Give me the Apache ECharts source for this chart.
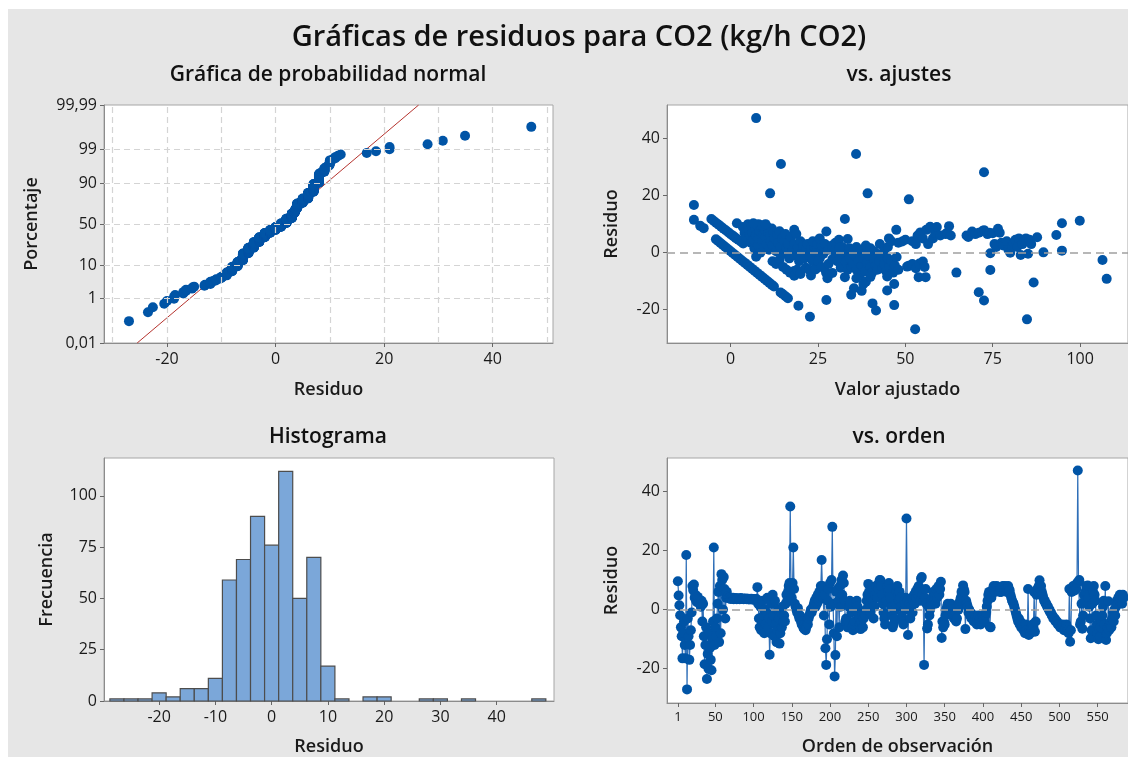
<!DOCTYPE html>
<html><head><meta charset="utf-8">
<script src="https://cdn.jsdelivr.net/npm/echarts@6/dist/echarts.min.js"></script>
<style>
html,body{margin:0;padding:0;background:#fff;}
#bg{position:absolute;left:8px;top:9px;width:1120px;height:748px;background:#e6e6e6;}
#chart{position:absolute;left:0;top:0;width:1128px;height:757px;}
</style></head><body><div id="bg"></div><div id="chart"></div>
<script>
// Residuals in observation order (obs 1..584)
const residuals = [
 9.6,4.8,1.5,-1.9,-6,-9,-16.5,-8,-4,-12,-16.5,18.5,-27,-3,-9,-17,-12,-7,-1,8,
 6.6,8.5,4,5,3,2.5,4.3,3.5,2.5,2,1,3,
 -4,2,-9,-18.5,-12,-6,-23.5,-15,-20,-8,-13,-17,-20.5,-10,-4,
 21,-12,-6,-9,-3,2,6,-11,8,-8,12,10,0,11,7,-3,4,
 6,4.5,4,3.8,4,3.6,3.9,3.7,4,3.5,3.8,3.6,3.9,3.5,3.7,3.8,3.6,3.5,3.9,3.7,3.6,3.8,3.5,3.7,3.6,3.8,3.5,3.6,3.7,3.4,3.6,3.5,3.7,3.4,3.6,3.5,3.3,3.5,3.4,3.6,
 7.6,2,-3,-6,1,-7,-4,3,-2,-8,0,-5,-1,4,-6,-3,-15.3,-8,2,-4,5,-2,-9,3,-5,-11,-7,0,-3,-11.5,-8,-1,-6,1,-4,-2,
 -4,2,5,3,6,8,9,34.9,7,4,9,21,7,
 2,1,0,-1,0.5,-2,-3,-2,-4,-5,-4,-6,-6.5,-5,-7,-6,-4,-5,-3,-2,-1,0,
 -1,0,1,2,3,1,4,2,5,3,6,4,8,
 16.8,8,4,-2,5,-13.1,-18.7,-10,3,7,-5,9,1,10,28,2,-8,-22.6,-15.4,6,-9,7,3,-6,8,1,10,5,11.5,9,3,-4,
 -3,-5,-6,-4,1,3,2,-1,-6,-7,-5,-4,0,2,3,1,-2,-3,-5,-6.6,-4,-2,-6,-3,-1,
 -2,0,3,5,8.7,6,2,-1,4,7,3,-3,1,5,8,6,4,7,9,10,9.9,8,5,2,-1,-3,-5,-2,3,8,6,9,7,4,1,-2,-6,-5,-3,0,2,6,8,5,3,
 6,4,1,-2,-4,-5,0,2,4,
 30.8,3,-8.6,0,2,-3,1,4,-1,3,5,2,6,4,7,5,8,6,3,10.5,11,5,3,-18.7,4,7,2,-6.4,-5,1,-2,0,3,2,4,6,3,5,2,7,4,6,8,5,7,9.4,-9.6,-4,
 -6,-4,-5,-2,0,1,2,-1,0,1.5,2,1,-1,0,-3,-2,-1,-4,-3,1,0,2,3,
 4,6,5,8.2,7,6,-6.6,3,2,1,-1,0,-2,-1,-3,-2,
 -3,-4,-2,-3,-4,-5,-3,-2,-4,-3,-5,-4,-3,-2,-3,-4,-2,-1,1,3,5,
 6,-5.8,-6,4,6,7,8,7,6,7,8,7,6.5,7,6,7,6,7.5,8,7,7,8,7,6,7,8,7,6.5,5,4,3.1,2.5,2,
 1,0,-1,-2,-3,-4,-3,-5,-4,-6,-5,-6,-7,-6,-8,-5,-7,-8,7,-8.6,-7,-8,-6,-7,-5,-6,6,-7.5,
 -4,5,7,6,8,9.9,7,8,6,5,4,3,
 3,2,2,1,1,0,0,-1,-1,-2,-2,-3,-3,-3,-4,-4,-4,-5,-5,-5,-6,-6,-6,-5,-6,-7,-6,-6.6,-5,-6,-7,-8,7,
 -10.9,-7,6,7,8,7,6.5,8,7,9,47.1,9.4,10,-5,-4,2,-6.5,-2,5,3,
 6,8,7.5,8.2,4,1,-3,-9.7,-7,2,6,8,5,3,-2,-5,-8,-10,-7,-9,-6,-4,-2,1,3,-5,8,
 -10.3,-8,-6,2.8,-7,-5,-4,-6,-3,-1,-4,0,-2,1,3,2,4,3,5,3.5,4.8,2,5,4
];

// Fitted value / residual pairs (vs. ajustes)
const fitsVsResid = [
 [-10.5,16.7],[-10.5,11.5],[-8.7,9.4],[-7.7,8.6],
 [-5.5,11.8],[-4.8,11.1],[-4.1,10.4],[-3.4,9.8],[-2.7,9.1],[-2,8.4],[-1.3,7.8],[-0.6,7.1],[0.1,6.4],[0.8,5.8],[1.5,5.1],[2.2,4.5],[2.9,3.9],[3.6,3.2],
 [-4.2,4.7],[-3.6,4.1],[-2.9,3.4],[-2.2,2.7],[-1.5,2],[-0.8,1.3],[-0.1,0.6],[0.6,-0.1],[1.3,-0.8],[2,-1.5],[2.7,-2.2],[3.4,-2.9],[4.1,-3.6],[4.8,-4.3],[5.5,-5],[6.2,-5.7],[6.9,-6.4],[7.6,-7.1],[8.3,-7.8],[9,-8.5],[9.7,-9.2],[10.4,-9.9],[11.1,-10.6],[11.8,-11.3],[12.4,-11.9],[14.3,-14],[14.9,-14.5],[15.7,-15.3],[16.4,-16],[19.4,-18.6],[22.7,-22.5],
 [7.3,47.2],[14.4,31.1],[11.3,20.8],[35.9,34.6],[39.2,20.8],[51,18.7],[72.5,28.2],[1.8,10.3],[32.7,11.8],
 [3.5,9],[4,7],[4.5,5.5],[5,10],[5.2,8],[5.5,6],[5.8,3.5],[6,9.5],[6.3,7],[6.5,4.5],[6.8,1.5],[7,8.5],[7.2,6],[7.5,9.8],[7.8,2.5],[8,5],[8.3,7.5],[8.5,0],[8.8,9],[9,4],[9.3,6.5],[9.5,2],[9.8,8],[10,5.5],[10.3,3],[10.5,9],[10.8,7],[11,1],[11.3,6],[11.5,4],[11.8,8.5],[12,2.5],[12.3,7],[12.6,5],[13,0.5],[13.3,6.5],[13.6,3.5],[14,7.5],[14.3,2],[14.7,5],[15,-0.5],[15.3,4],[15.7,6.5],[16,1.5],[16.4,3],[16.8,-2],[17.2,5.5],[17.6,0.5],[18.2,8],[18.2,3],[7.3,-1.4],[8,10],[9,9.5],[6.5,10.3],[10,10],
 [12,-3],[13,-4],[14,-2.5],[15,-5],[16,-6],[17,-7],
 [18.5,-1],[18.8,6.5],[19.2,2],[19.6,-3],[20,4],[20.4,0],[20.8,2.5],[21.2,-2],[21.6,1],[22,3],[22.5,-1],[23,1.5],[23.5,-3],[24,2],[24.5,0],[25,4],[25.5,-2],[26,1],[26.5,-0.5],[18.2,-6.4],[18.2,-8.1],[19,-6],[20,-7.5],[21.5,-5.3],[22.5,-6],[23,-8],[24.3,-5.9],[25,-3],[26,-5],[27.3,-7],[27.7,-9],[28,-4],[29.1,-2.3],[29.1,-7.1],[27.4,7.4],[27.4,-16.6],[23.5,4],[24.8,3],[25.5,5],[26,2.5],
 [27,3],[28,1],[29,2.5],[30,3.5],[31,4.5],[32,2],[33,0.5],[33.5,4.8],[34,1.5],[35,0],[36,2],[37,1],[38,-0.5],[38.7,2.5],[40,1.5],[41,0.5],[42,-0.5],[42.7,3],[44,1],[45,2],[45.3,5],[46,4],[47.4,8],[48,3.5],[49.1,3.9],[50,4.5],[30,0],[31.1,1.7],[32,-1],
 [30.5,-3],[31.5,-5.3],[32.7,-8.6],[33,-3],[33.5,-6],[34,-2],[34.5,-5],[35,-4],[35.5,-1],[36,-6],[36.5,-3],[37,-8],[37.5,-4.5],[38,-2],[38.5,-6.5],[39,-3.5],[39.5,-1],[40,-5],[40.5,-7],[41,-2.5],[41.5,-4.5],[42,-6],[42.5,-3],[43,-1],[43.5,-5.5],[44,-4],[44.5,-6.5],[45,-2],[45.5,-5],[46,-3],[46.5,-7],[47,-4.5],[47.5,-1.5],[48,-6],
 [34.5,-14.8],[35.3,-12.5],[37.5,-13.4],[38.7,-10.2],[40.6,-17.8],[41.6,-20.3],[44.8,-13.3],[46.8,-11],[46.8,-18.4],[44.8,-8.4],[36,-9],[38,-11],[40,-8.5],
 [50.5,-4.9],[51,-4.6],[52,-4],[53,-5.5],[54,-3.8],[55,-3.1],[55.5,-5],[53.8,-8.6],[55.8,-8.6],[52.8,-26.9],[52,4],[53,3],[53.5,6],[54.3,7.1],[55,5],[56,8],[56.5,3],[57.1,9.1],[57.9,5],[58.5,7],[59,9],[60,6],[61.5,6.5],[62,7],[62.5,9.3],[63,6],[64.6,-7],[67.5,6],[68,5.5],[69.1,7.4],[70,6.5],[71,7],[72,7.5],[72.5,7.9],[73.5,6.5],[74,7],[75,6.8],[76.5,8.4],[77,7],[71,-13.9],[72.5,-16.8],[74.3,-6.1],[74.3,-0.2],[75.5,3],[76,2],[77.5,3.5],[78,2.5],[79,4],[79.5,1],[80,0],[80.5,2.5],[81,3.5],[81.5,4.5],[82,2],[82.5,5],[83,-0.8],[83.5,3],[84,4],[84.5,5],[85.1,-0.4],[85.5,4.5],[86,3],[86.7,-10.5],[87.7,5.4],[84.8,-23.4],[89.5,0.1],[93.2,6.2],[94.8,10.3],[94.8,0.7],[99.9,11.2],[106.4,-2.6],[107.6,-9.2]
];

// Histogram
const histCenters = [-27.5,-25,-22.5,-20,-17.5,-15,-12.5,-10,-7.5,-5,-2.5,0,2.5,5,7.5,10,12.5,17.5,20,27.5,30,35,47.5];
const histCounts  = [1,1,1,4,2,6,6,11,59,69,90,76,112,50,70,17,1,2,2,1,1,1,1];
const histBinWidth = 2.5;

// Tick labels
const probTickPercents = [0.01,1,10,50,90,99,99.99];
const probTickLabels = ['0,01','1','10','50','90','99','99,99'];
const probGridX = [-30,-20,-10,0,10,20,30,40,50];
const residTicks = [-20,0,20,40];
const fitTicks = [0,25,50,75,100];
const histXTicks = [-20,-10,0,10,20,30,40];
const histYTicks = [0,25,50,75,100];
const orderTicks = [1,50,100,150,200,250,300,350,400,450,500,550];

function invNorm(p){
  const a=[-3.969683028665376e+01,2.209460984245205e+02,-2.759285104469687e+02,1.383577518672690e+02,-3.066479806614716e+01,2.506628277459239e+00];
  const b=[-5.447609879822406e+01,1.615858368580409e+02,-1.556989798598866e+02,6.680131188771972e+01,-1.328068155288572e+01];
  const c=[-7.784894002430293e-03,-3.223964580411365e-01,-2.400758277161838e+00,-2.549732539343734e+00,4.374664141464968e+00,2.938163982698783e+00];
  const d=[7.784695709041462e-03,3.224671290700398e-01,2.445134137142996e+00,3.754408661907416e+00];
  const pl=0.02425, ph=1-pl; let q,r;
  if(p<pl){q=Math.sqrt(-2*Math.log(p));return (((((c[0]*q+c[1])*q+c[2])*q+c[3])*q+c[4])*q+c[5])/((((d[0]*q+d[1])*q+d[2])*q+d[3])*q+1);}
  if(p<=ph){q=p-0.5;r=q*q;return (((((a[0]*r+a[1])*r+a[2])*r+a[3])*r+a[4])*r+a[5])*q/(((((b[0]*r+b[1])*r+b[2])*r+b[3])*r+b[4])*r+1);}
  q=Math.sqrt(-2*Math.log(1-p));return -(((((c[0]*q+c[1])*q+c[2])*q+c[3])*q+c[4])*q+c[5])/((((d[0]*q+d[1])*q+d[2])*q+d[3])*q+1);
}

const n = residuals.length;
const sorted = residuals.slice().sort((x,y)=>x-y);
const probData = sorted.map((r,i)=>[r, invNorm((i+1-0.3)/(n+0.4))]);
const mean = residuals.reduce((s,v)=>s+v,0)/n;
const sd = Math.sqrt(residuals.reduce((s,v)=>s+(v-mean)*(v-mean),0)/(n-1));
const zTicks = probTickPercents.map(p=>invNorm(p/100));
const zMin = zTicks[0], zMax = zTicks[zTicks.length-1];

const FONT = '"Open Sans", "Noto Sans", sans-serif';
const BLUE = '#0054a6';
const TXT = '#1a1a1a';

function xAx(gi, min, max, ticks, name, gap, fs){
  return {type:'value', gridIndex:gi, min:min, max:max, name:name, nameLocation:'middle', nameGap:gap,
    nameTextStyle:{fontFamily:FONT, fontSize:18, fontWeight:600, color:TXT},
    axisLine:{show:true, onZero:false, lineStyle:{color:'#8c8c8c'}},
    axisTick:{show:true, customValues:ticks, length:4, lineStyle:{color:'#666'}},
    axisLabel:{customValues:ticks, fontFamily:FONT, fontSize:fs||16, color:TXT, margin:8, showMinLabel:true, showMaxLabel:true},
    splitLine:{show:false}};
}
function yAx(gi, min, max, ticks, name, gap, fmt){
  const o = {type:'value', gridIndex:gi, min:min, max:max, name:name, nameLocation:'middle', nameGap:gap,
    nameTextStyle:{fontFamily:FONT, fontSize:18, fontWeight:600, color:TXT},
    axisLine:{show:true, onZero:false, lineStyle:{color:'#8c8c8c'}},
    axisTick:{show:true, customValues:ticks, length:4, lineStyle:{color:'#666'}},
    axisLabel:{customValues:ticks, fontFamily:FONT, fontSize:16, color:TXT, margin:7, showMinLabel:true, showMaxLabel:true},
    splitLine:{show:false}};
  if(fmt) o.axisLabel.formatter = fmt;
  return o;
}

const gridStyle = {show:true, backgroundColor:'#ffffff', borderColor:'#a6a6a6', borderWidth:1, containLabel:false};
const dashGrid = {color:'#d4d4d4', width:1.2, type:[6,4]};
const zeroLine = {color:'#a0a0a0', width:1.5, type:[8,5]};
const headFont = '600 21px '+FONT;

const option = {
  animation:false,
  backgroundColor:'transparent',
  textStyle:{fontFamily:FONT},
  graphic:[
    {type:'text', x:579, y:38, style:{text:'Gráficas de residuos para CO2 (kg/h CO2)', font:'600 29px '+FONT, fill:'#111', textAlign:'center', textVerticalAlign:'middle', verticalAlign:'middle'}},
    {type:'text', x:328, y:75, style:{text:'Gráfica de probabilidad normal', font:headFont, fill:'#111', textAlign:'center', textVerticalAlign:'middle', verticalAlign:'middle'}},
    {type:'text', x:899, y:75, style:{text:'vs. ajustes', font:headFont, fill:'#111', textAlign:'center', textVerticalAlign:'middle', verticalAlign:'middle'}},
    {type:'text', x:328, y:437, style:{text:'Histograma', font:headFont, fill:'#111', textAlign:'center', textVerticalAlign:'middle', verticalAlign:'middle'}},
    {type:'text', x:899, y:437, style:{text:'vs. orden', font:headFont, fill:'#111', textAlign:'center', textVerticalAlign:'middle', verticalAlign:'middle'}}
  ],
  grid:[
    Object.assign({left:104, top:105, width:449, height:238}, gridStyle),
    Object.assign({left:667, top:105, width:463, height:238}, gridStyle),
    Object.assign({left:104, top:458, width:450, height:248}, gridStyle),
    Object.assign({left:667, top:458, width:463, height:247}, gridStyle)
  ],
  xAxis:[
    xAx(0, -31.6, 51.1, residTicks, 'Residuo', 38),
    xAx(1, -18.2, 113.7, fitTicks, 'Valor ajustado', 38),
    xAx(2, -29.8, 50.2, histXTicks, 'Residuo', 37),
    xAx(3, -13.2, 589.7, orderTicks, 'Orden de observación', 35, 13)
  ],
  yAxis:[
    yAx(0, zMin, zMax, zTicks, 'Porcentaje', 63, function(v){
      for(let i=0;i<zTicks.length;i++){ if(Math.abs(zTicks[i]-v)<1e-6) return probTickLabels[i]; }
      return '';
    }),
    yAx(1, -31.7, 51.8, residTicks, 'Residuo', 46),
    yAx(2, 0, 118.5, histYTicks, 'Frecuencia', 48),
    yAx(3, -31.6, 51.3, residTicks, 'Residuo', 46)
  ],
  series:[
    {type:'line', xAxisIndex:0, yAxisIndex:0, z:2, symbol:'none',
      data:[[mean+sd*zMin, zMin],[mean+sd*zMax, zMax]],
      lineStyle:{color:'#b5332e', width:1},
      markLine:{silent:true, symbol:'none', label:{show:false}, lineStyle:dashGrid, animation:false,
        data: probGridX.map(v=>({xAxis:v})).concat(zTicks.slice(1,-1).map(v=>({yAxis:v})))}},
    {type:'scatter', xAxisIndex:0, yAxisIndex:0, z:3, data:probData, symbol:'circle', symbolSize:10,
      itemStyle:{color:BLUE, opacity:1}},
    {type:'line', xAxisIndex:1, yAxisIndex:1, z:1, data:[], symbol:'none',
      markLine:{silent:true, symbol:'none', label:{show:false}, lineStyle:zeroLine, data:[{yAxis:0}]}},
    {type:'scatter', xAxisIndex:1, yAxisIndex:1, z:3, data:fitsVsResid, symbol:'circle', symbolSize:10,
      itemStyle:{color:BLUE, opacity:1}},
    {type:'custom', xAxisIndex:2, yAxisIndex:2, z:3,
      data: histCenters.map((c,i)=>[c, histCounts[i]]),
      encode:{x:0, y:1},
      renderItem:function(params, api){
        const c = api.value(0), h = api.value(1);
        const p0 = api.coord([c-histBinWidth/2, h]);
        const p1 = api.coord([c+histBinWidth/2, 0]);
        return {type:'rect', shape:{x:p0[0], y:p0[1], width:p1[0]-p0[0], height:p1[1]-p0[1]},
          style:{fill:'#7ba7d9', stroke:'#4d4d4d', lineWidth:1.2}};
      }},
    {type:'line', xAxisIndex:3, yAxisIndex:3, z:1, data:[], symbol:'none',
      markLine:{silent:true, symbol:'none', label:{show:false}, lineStyle:zeroLine, data:[{yAxis:0}]}},
    {type:'line', xAxisIndex:3, yAxisIndex:3, z:3, data:residuals.map((r,i)=>[i+1,r]),
      symbol:'circle', symbolSize:10, showSymbol:true, showAllSymbol:true,
      lineStyle:{color:'#2f6fb8', width:1.2}, itemStyle:{color:BLUE, opacity:1}}
  ]
};
const chart = echarts.init(document.getElementById('chart'), null, {renderer:'canvas'});
chart.setOption(option);
</script>
</body></html>
